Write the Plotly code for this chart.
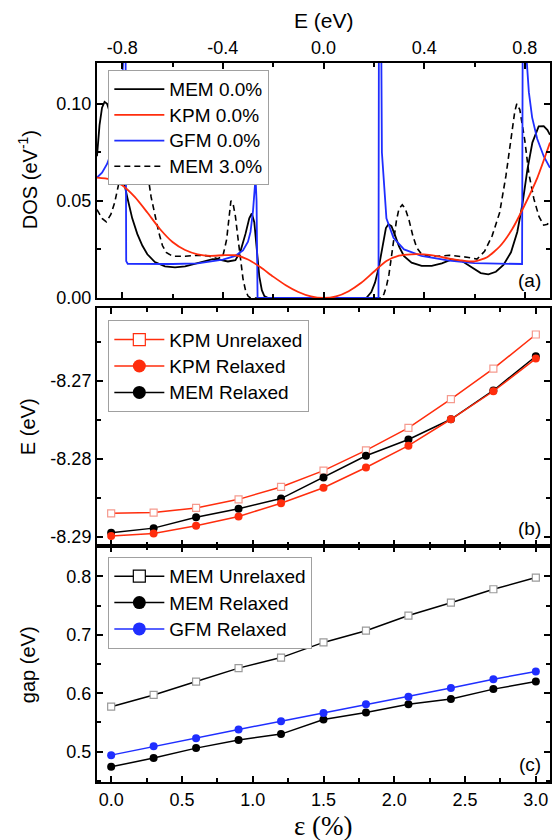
import plotly.graph_objects as go

# ---------------- panel (a): density of states ----------------
E_MEM0 = [-0.9, -0.89, -0.88, -0.87, -0.86, -0.845, -0.83, -0.815, -0.80, -0.78, -0.76, -0.74,
          -0.72, -0.70, -0.67, -0.63, -0.59, -0.55, -0.51, -0.47, -0.44, -0.41, -0.38, -0.35,
          -0.33, -0.31, -0.295, -0.285, -0.275, -0.265, -0.255, -0.245, -0.235, -0.22, 0.17,
          0.19, 0.205, 0.22, 0.235, 0.248, 0.258, 0.27, 0.285, 0.30, 0.32, 0.35, 0.39, 0.43,
          0.47, 0.51, 0.55, 0.59, 0.625, 0.655, 0.685, 0.715, 0.745, 0.77, 0.79, 0.81, 0.83,
          0.855, 0.875, 0.89, 0.90]
DOS_MEM0 = [0.073, 0.089, 0.098, 0.101, 0.100, 0.094, 0.085, 0.074, 0.064, 0.052, 0.041, 0.033,
            0.027, 0.0225, 0.0185, 0.0163, 0.0158, 0.0163, 0.0177, 0.0193, 0.0200, 0.0196, 0.0188,
            0.0195, 0.024, 0.033, 0.041, 0.0435, 0.039, 0.025, 0.011, 0.004, 0.001, 0.0, 0.0,
            0.003, 0.008, 0.016, 0.028, 0.036, 0.038, 0.037, 0.032, 0.0265, 0.0215, 0.0182,
            0.0165, 0.0165, 0.0178, 0.0198, 0.0190, 0.0155, 0.0128, 0.0122, 0.0135, 0.0170,
            0.0235, 0.034, 0.048, 0.066, 0.080, 0.0884, 0.0885, 0.0865, 0.084]

E_KPM0 = [-0.9, -0.85, -0.8, -0.75, -0.7, -0.65, -0.6, -0.55, -0.5, -0.45, -0.4, -0.35, -0.3,
          -0.25, -0.2, -0.15, -0.1, -0.05, 0.0, 0.05, 0.1, 0.15, 0.2, 0.25, 0.3, 0.35, 0.4,
          0.45, 0.5, 0.55, 0.6, 0.65, 0.7, 0.75, 0.8, 0.85, 0.9]
DOS_KPM0 = [0.0620, 0.0612, 0.0580, 0.0520, 0.0440, 0.0355, 0.0288, 0.0247, 0.0225, 0.0217,
            0.0220, 0.0220, 0.0198, 0.0158, 0.0110, 0.0066, 0.0031, 0.0008, 0.0, 0.0008,
            0.0035, 0.0078, 0.0135, 0.0190, 0.0218, 0.0225, 0.0224, 0.0215, 0.0203, 0.0193,
            0.0188, 0.0210, 0.0265, 0.0355, 0.0480, 0.0620, 0.0800]

E_GFM0 = [-0.9, -0.88, -0.86, -0.84, -0.82, -0.81, -0.80, -0.795, -0.79, -0.787, -0.784,
          -0.778, -0.70, -0.60, -0.50, -0.45, -0.40, -0.35, -0.32, -0.30, -0.29, -0.28, -0.275,
          -0.27, -0.266, -0.262, 0.2185, 0.222, 0.232, 0.243, 0.25, 0.278, 0.32, 0.389, 0.50,
          0.60, 0.70, 0.789, 0.795, 0.806, 0.816, 0.829, 0.849, 0.875, 0.90]
DOS_GFM0 = [0.0620, 0.0645, 0.0690, 0.0760, 0.0860, 0.0960, 0.1120, 0.1250, 0.30, 0.030, 0.019,
            0.0176, 0.0174, 0.0175, 0.0178, 0.0186, 0.0197, 0.0217, 0.0245, 0.0290, 0.0340,
            0.0450, 0.0550, 0.0620, 0.0500, 0.0, 0.0, 0.30, 0.075, 0.052, 0.041, 0.031, 0.025,
            0.0217, 0.0192, 0.0179, 0.0175, 0.0175, 0.30, 0.125, 0.106, 0.093, 0.082, 0.073,
            0.067]

E_MEM3 = [-0.9, -0.88, -0.863, -0.845, -0.83, -0.815, -0.80, -0.78, -0.76, -0.74, -0.72, -0.70,
          -0.685, -0.67, -0.655, -0.64, -0.625, -0.60, -0.55, -0.50, -0.46, -0.42, -0.40,
          -0.385, -0.375, -0.368, -0.36, -0.35, -0.34, -0.33, -0.32, -0.31, -0.30, -0.29,
          0.23, 0.24, 0.25, 0.26, 0.27, 0.28, 0.29, 0.30, 0.313, 0.325, 0.34, 0.355, 0.37,
          0.39, 0.43, 0.50, 0.57, 0.61, 0.64, 0.67, 0.70, 0.725, 0.745, 0.76, 0.768, 0.78,
          0.80, 0.816, 0.836, 0.856, 0.875, 0.89, 0.90]
DOS_MEM3 = [0.0455, 0.041, 0.0392, 0.043, 0.049, 0.058, 0.070, 0.088, 0.097, 0.095, 0.083,
            0.066, 0.052, 0.043, 0.034, 0.027, 0.0235, 0.0215, 0.0215, 0.022, 0.0217, 0.0202,
            0.0215, 0.030, 0.042, 0.050, 0.049, 0.042, 0.031, 0.020, 0.010, 0.004, 0.001, 0.0,
            0.0, 0.002, 0.006, 0.012, 0.021, 0.031, 0.040, 0.046, 0.048, 0.046, 0.040, 0.032,
            0.026, 0.0225, 0.0212, 0.022, 0.021, 0.020, 0.024, 0.032, 0.044, 0.063, 0.083,
            0.096, 0.100, 0.097, 0.081, 0.064, 0.051, 0.042, 0.0375, 0.038, 0.040]

# ---------------- panels (b) and (c): strain dependence ----------------
strain = [0.0, 0.3, 0.6, 0.9, 1.2, 1.5, 1.8, 2.1, 2.4, 2.7, 3.0]

E_kpm_unrelaxed = [-8.2870, -8.2869, -8.2863, -8.2852, -8.2836, -8.2815, -8.2789, -8.2760,
                   -8.2723, -8.2684, -8.2640]
E_kpm_relaxed = [-8.2899, -8.2896, -8.2886, -8.2874, -8.2857, -8.2837, -8.2811, -8.2783,
                 -8.2749, -8.2713, -8.2671]
E_mem_relaxed = [-8.2895, -8.2889, -8.2875, -8.2864, -8.2851, -8.2824, -8.2796, -8.2775,
                 -8.2749, -8.2712, -8.2668]

gap_mem_unrelaxed = [0.577, 0.597, 0.620, 0.643, 0.661, 0.687, 0.707, 0.733, 0.755, 0.778, 0.798]
gap_mem_relaxed = [0.474, 0.489, 0.506, 0.520, 0.530, 0.555, 0.567, 0.581, 0.590, 0.607, 0.620]
gap_gfm_relaxed = [0.494, 0.509, 0.523, 0.538, 0.552, 0.566, 0.581, 0.594, 0.609, 0.624, 0.637]

# tick labels
e_ticks = [-0.8, -0.4, 0.0, 0.4, 0.8]
e_ticktext = ["-0.8", "-0.4", "0.0", "0.4", "0.8"]
dos_ticks = [0.0, 0.05, 0.10]
dos_ticktext = ["0.00", "0.05", "0.10"]
en_ticks = [-8.29, -8.28, -8.27]
en_ticktext = ["-8.29", "-8.28", "-8.27"]
gap_ticks = [0.5, 0.6, 0.7, 0.8]
gap_ticktext = ["0.5", "0.6", "0.7", "0.8"]
strain_ticks = [0.0, 0.5, 1.0, 1.5, 2.0, 2.5, 3.0]
strain_ticktext = ["0.0", "0.5", "1.0", "1.5", "2.0", "2.5", "3.0"]

RED = "#ff2d0d"
BLUE = "#1f2eff"
BLACK = "black"
SQ_EDGE_RED = "#f59a8e"
SQ_EDGE_GRAY = "#9a9a9a"


def legend_label(text, px=19):
    # legend rows are spaced by the legend's base font size; the label itself is drawn larger
    return f"<span style='font-size:{px}px'>{text}</span>"


fig = go.Figure()

# panel (a)
fig.add_trace(go.Scatter(x=E_MEM3, y=DOS_MEM3, mode="lines", name=legend_label("MEM 3.0%"),
                         line=dict(color=BLACK, width=1.6, dash="6px,4px"),
                         xaxis="x", yaxis="y", legend="legend", legendrank=4))
fig.add_trace(go.Scatter(x=E_MEM0, y=DOS_MEM0, mode="lines", name=legend_label("MEM 0.0%"),
                         line=dict(color=BLACK, width=1.8),
                         xaxis="x", yaxis="y", legend="legend", legendrank=1))
fig.add_trace(go.Scatter(x=E_GFM0, y=DOS_GFM0, mode="lines", name=legend_label("GFM 0.0%"),
                         line=dict(color=BLUE, width=1.8),
                         xaxis="x", yaxis="y", legend="legend", legendrank=3))
fig.add_trace(go.Scatter(x=E_KPM0, y=DOS_KPM0, mode="lines", name=legend_label("KPM 0.0%"),
                         line=dict(color=RED, width=1.8, shape="spline", smoothing=0.6),
                         xaxis="x", yaxis="y", legend="legend", legendrank=2))

# panel (b)
fig.add_trace(go.Scatter(x=strain, y=E_kpm_unrelaxed, mode="lines+markers", showlegend=False,
                         line=dict(color=RED, width=1.5),
                         marker=dict(symbol="square", size=7, color="white",
                                     line=dict(color=SQ_EDGE_RED, width=1.2)),
                         xaxis="x2", yaxis="y2"))
fig.add_trace(go.Scatter(x=strain, y=E_mem_relaxed, mode="lines+markers", showlegend=False,
                         line=dict(color=BLACK, width=1.5),
                         marker=dict(symbol="circle", size=8, color=BLACK),
                         xaxis="x2", yaxis="y2"))
fig.add_trace(go.Scatter(x=strain, y=E_kpm_relaxed, mode="lines+markers", showlegend=False,
                         line=dict(color=RED, width=1.5),
                         marker=dict(symbol="circle", size=8, color=RED),
                         xaxis="x2", yaxis="y2"))

# panel (c)
fig.add_trace(go.Scatter(x=strain, y=gap_mem_unrelaxed, mode="lines+markers", showlegend=False,
                         line=dict(color=BLACK, width=1.5),
                         marker=dict(symbol="square", size=7, color="white",
                                     line=dict(color=SQ_EDGE_GRAY, width=1.2)),
                         xaxis="x3", yaxis="y3"))
fig.add_trace(go.Scatter(x=strain, y=gap_mem_relaxed, mode="lines+markers", showlegend=False,
                         line=dict(color=BLACK, width=1.5),
                         marker=dict(symbol="circle", size=8, color=BLACK),
                         xaxis="x3", yaxis="y3"))
fig.add_trace(go.Scatter(x=strain, y=gap_gfm_relaxed, mode="lines+markers", showlegend=False,
                         line=dict(color=BLUE, width=1.5),
                         marker=dict(symbol="circle", size=8, color=BLUE),
                         xaxis="x3", yaxis="y3"))

# legend entries with larger symbols for panels (b) and (c)
legend_items = [
    ("KPM Unrelaxed", RED, dict(symbol="square", size=12, color="white",
                                line=dict(color=RED, width=1.2)), "legend2"),
    ("KPM Relaxed", RED, dict(symbol="circle", size=13, color=RED), "legend2"),
    ("MEM Relaxed", BLACK, dict(symbol="circle", size=13, color=BLACK), "legend2"),
    ("MEM Unrelaxed", BLACK, dict(symbol="square", size=12, color="white",
                                  line=dict(color=BLACK, width=1.2)), "legend3"),
    ("MEM Relaxed", BLACK, dict(symbol="circle", size=13, color=BLACK), "legend3"),
    ("GFM Relaxed", BLUE, dict(symbol="circle", size=13, color=BLUE), "legend3"),
]
for i, (name, col, mk, lg) in enumerate(legend_items):
    fig.add_trace(go.Scatter(x=[None], y=[None], mode="lines+markers", name=legend_label(name),
                             line=dict(color=col, width=1.5), marker=mk,
                             xaxis="x2" if lg == "legend2" else "x3",
                             yaxis="y2" if lg == "legend2" else "y3",
                             legend=lg, legendrank=i + 1))

axis_common = dict(showline=True, linecolor="black", linewidth=2, mirror="ticks",
                   ticks="inside", ticklen=6, tickwidth=1.5, tickcolor="black",
                   showgrid=False, zeroline=False, tickmode="array",
                   tickfont=dict(size=18))


def minor(dtick, tick0):
    return dict(ticks="inside", ticklen=4, tickwidth=1.5, tickcolor="black",
                showgrid=False, tickmode="linear", dtick=dtick, tick0=tick0)


def legend_box(y, size):
    return dict(x=0.025, y=y, xanchor="left", yanchor="top", bgcolor="white",
                bordercolor="#a0a0a0", borderwidth=1, font=dict(size=size), itemwidth=50,
                tracegroupgap=0, traceorder="normal")


# plot area spans y = 63 .. 782 px
top_dom = [0.6732, 1.0]
mid_dom = [0.3282, 0.6592]
bot_dom = [0.0, 0.3282]

fig.update_layout(
    width=553, height=840,
    margin=dict(l=97, r=1, t=63, b=58),
    paper_bgcolor="white", plot_bgcolor="white",
    font=dict(family="Liberation Sans, Arial, sans-serif", size=18, color="black"),
    xaxis=dict(axis_common, domain=[0, 1], anchor="y", side="top", range=[-0.9, 0.9],
               tickvals=e_ticks, ticktext=e_ticktext, minor=minor(0.2, -0.8)),
    yaxis=dict(axis_common, domain=top_dom, anchor="x", range=[0, 0.121],
               tickvals=dos_ticks, ticktext=dos_ticktext, minor=minor(0.025, 0)),
    xaxis2=dict(axis_common, domain=[0, 1], anchor="y2", range=[-0.1, 3.1],
                tickvals=strain_ticks, showticklabels=False, minor=minor(0.25, 0)),
    yaxis2=dict(axis_common, domain=mid_dom, anchor="x2", range=[-8.2912, -8.2606],
                tickvals=en_ticks, ticktext=en_ticktext, minor=minor(0.005, -8.29)),
    xaxis3=dict(axis_common, domain=[0, 1], anchor="y3", range=[-0.1, 3.1],
                tickvals=strain_ticks, ticktext=strain_ticktext, minor=minor(0.25, 0)),
    yaxis3=dict(axis_common, domain=bot_dom, anchor="x3", range=[0.448, 0.852],
                tickvals=gap_ticks, ticktext=gap_ticktext, minor=minor(0.05, 0.5)),
    legend=legend_box(0.990, 17.5),
    legend2=legend_box(0.642, 18),
    legend3=legend_box(0.313, 18),
)

annotations = [
    dict(text="E (eV)", x=0.5, y=1.0598, xref="paper", yref="paper", showarrow=False,
         xanchor="center", yanchor="middle", font=dict(size=21)),
    dict(text="ε (%)", x=0.5, y=-0.0612, xref="paper", yref="paper", showarrow=False,
         xanchor="center", yanchor="middle",
         font=dict(size=27, family="Liberation Serif, Times New Roman, serif")),
    dict(text="DOS (eV<sup>-1</sup>)", x=-0.152, y=(782 - 180) / 719, xref="paper",
         yref="paper", showarrow=False, textangle=-90, xanchor="center", yanchor="middle",
         font=dict(size=20)),
    dict(text="E (eV)", x=-0.152, y=(782 - 427) / 719, xref="paper", yref="paper",
         showarrow=False, textangle=-90, xanchor="center", yanchor="middle",
         font=dict(size=20)),
    dict(text="gap (eV)", x=-0.152, y=(782 - 665) / 719, xref="paper", yref="paper",
         showarrow=False, textangle=-90, xanchor="center", yanchor="middle",
         font=dict(size=20)),
]
for lab, xr, yr in [("(a)", "x", "y"), ("(b)", "x2", "y2"), ("(c)", "x3", "y3")]:
    annotations.append(dict(text=lab, x=0.985, y=0.02, xref=f"{xr} domain",
                            yref=f"{yr} domain", showarrow=False, xanchor="right",
                            yanchor="bottom", font=dict(size=19)))
fig.update_layout(annotations=annotations)

fig.write_html("out.html")
